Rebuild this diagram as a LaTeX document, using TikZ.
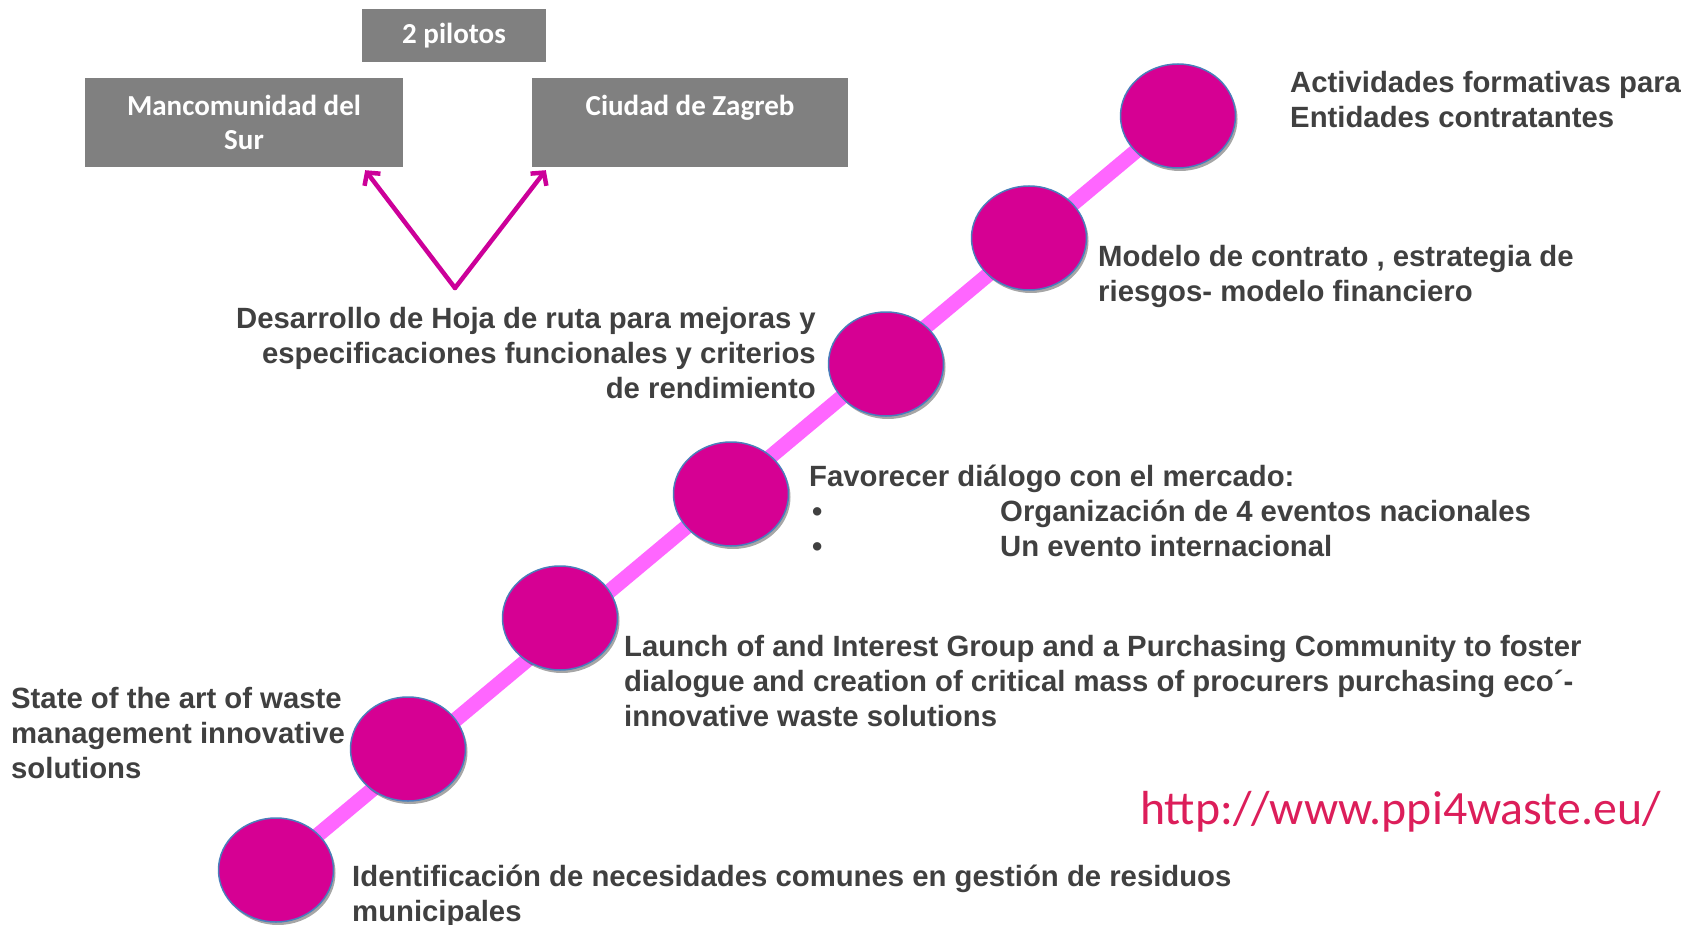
\documentclass[tikz,border=0pt]{standalone}
\usepackage{fontspec}
\setmainfont{Liberation Sans}
\newfontfamily\calibrifont{Carlito}
\usetikzlibrary{shapes.geometric,shadows,arrows.meta,backgrounds,calc}
\definecolor{txt}{HTML}{404040}
\definecolor{circfill}{HTML}{D60093}
\definecolor{circborder}{HTML}{4A7EBB}
\definecolor{linepink}{HTML}{FF66FF}
\definecolor{boxgray}{HTML}{808080}
\definecolor{arrowmag}{HTML}{CC0099}
\definecolor{urlred}{HTML}{DC1E5A}
\begin{document}
\begin{tikzpicture}[x=1pt,y=-1pt,
  stage/.style={ellipse, draw=circborder, line width=1.5pt, fill=circfill,
    minimum width=115pt, minimum height=104pt, inner sep=0pt,
    drop shadow={shadow xshift=2pt, shadow yshift=-3pt, opacity=0.35, fill=black}},
  lbl/.style={font=\fontsize{29.3}{35}\selectfont\bfseries, text=txt, inner sep=0pt, align=left},
  graybox/.style={fill=boxgray, text=white, font=\calibrifont\fontsize{29}{34}\selectfont\bfseries,
    align=center, inner sep=0pt},
  pinkarrow/.style={draw=arrowmag, line width=4.5pt, line cap=round, line join=round,
    -{Straight Barb[length=9pt,width=20pt,line width=4.5pt]}},
]
\useasboundingbox (0,0) rectangle (1694,925);

% timeline stages
\node[stage] (c1) at (276,870) {};
\node[stage] (c2) at (408,749) {};
\node[stage] (c3) at (560,618) {};
\node[stage] (c4) at (731,494) {};
\node[stage] (c5) at (886,364) {};
\node[stage] (c6) at (1029,238) {};
\node[stage] (c7) at (1178,116) {};
\begin{pgfonlayer}{background}
  \draw[linepink, line width=15pt] (c1.center) -- (c7.center);
\end{pgfonlayer}

% gray boxes
\node[graybox, minimum width=184pt, minimum height=53pt] (pil) at (454,35.5) {\raisebox{-2pt}{2 pilotos}};
\node[graybox, minimum width=318pt, minimum height=89pt] (manc) at (244,122.5) {Mancomunidad del\\Sur};
\node[graybox, minimum width=316pt, minimum height=89pt] (zag) at (690,122.5) {Ciudad de Zagreb\\\mbox{}};

% arrows
\coordinate (apex) at (455,288);
\draw[pinkarrow] (apex) -- ($(manc.south east)+(-38,3)$);
\draw[pinkarrow] (apex) -- ($(zag.south west)+(14,3)$);

% labels
\node[lbl, anchor=north west] (t7) at (1290,71) {Actividades formativas para\\Entidades contratantes};
\node[lbl, anchor=north west] (t6) at (1098,245) {Modelo de contrato , estrategia de\\riesgos- modelo financiero};
\node[lbl, anchor=north east, align=right] (t5) at (816,307) {Desarrollo de Hoja de ruta para mejoras y\\especificaciones funcionales y criterios\\de rendimiento};
\node[lbl, anchor=north west] (t4) at (809,465) {Favorecer diálogo con el mercado:\\
  \makebox[191pt][l]{\hspace{3pt}•}Organización de 4 eventos nacionales\\
  \makebox[191pt][l]{\hspace{3pt}•}Un evento internacional};
\node[lbl, anchor=north west] (t3) at (624,635) {Launch of and Interest Group and a Purchasing Community to foster\\dialogue and creation of critical mass of procurers purchasing eco´-\\innovative waste solutions};
\node[lbl, anchor=north west] (t2) at (11,687) {State of the art of waste\\management innovative\\solutions};
\node[lbl, anchor=north west] (t1) at (352,865) {Identificación de necesidades comunes en gestión de residuos\\municipales};

\node[anchor=west, inner sep=0pt, text=urlred, font=\calibrifont\fontsize{47.8}{50}\selectfont] (url) at (1140,812) {http://www.ppi4waste.eu/};
\end{tikzpicture}
\end{document}
